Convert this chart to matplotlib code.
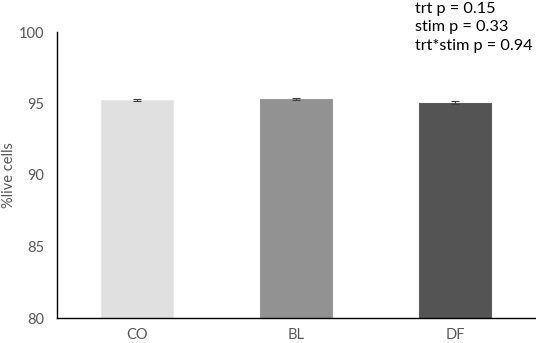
import matplotlib
matplotlib.use("Agg")
import matplotlib.pyplot as plt

categories = ["CO", "BL", "DF"]
values = [95.25, 95.3, 95.05]
errors = [0.09, 0.09, 0.09]
colors = ["#e0e0e0", "#929292", "#545454"]
edge_colors = ["#e8e8e8", "#9a9a9a", "#5c5c5c"]
yticks = [80, 85, 90, 95, 100]
stats_text = "trt p = 0.15\nstim p = 0.33\ntrt*stim p = 0.94"

plt.rcParams['font.family'] = ['Lato', 'DejaVu Sans']

fig = plt.figure(figsize=(5.36, 3.43), dpi=100)
ax = fig.add_axes([57/536, 1-318/343, (535-57)/536, (318-32)/343])

x = list(range(len(categories)))
ax.bar(x, [v - 80 for v in values], bottom=80, width=0.45, color=colors,
       edgecolor=edge_colors, linewidth=0.8)
ax.errorbar(x, values, yerr=errors, fmt='none', ecolor='#404040',
            elinewidth=0.8, capsize=3, capthick=0.8)

ax.set_xlim(-0.5, 2.5)
ax.set_ylim(80, 100)
ax.set_yticks(yticks)
ax.set_xticks(x)
ax.set_xticklabels(categories)
ax.tick_params(axis='both', length=0, colors='#595959', labelsize=10.5)
ax.tick_params(axis='y', pad=9)
ax.tick_params(axis='x', pad=7)
ax.set_ylabel("%live cells", color='#595959', fontsize=10.5)
ax.yaxis.set_label_coords(-(57 - 16) / 478, 0.5)

for s in ['top', 'right']:
    ax.spines[s].set_visible(False)
ax.spines['left'].set_color('black')
ax.spines['bottom'].set_color('black')
ax.spines['left'].set_linewidth(1.0)
ax.spines['bottom'].set_linewidth(1.0)

fig.text(415/536, 1-2/343, stats_text, ha='left', va='top', fontsize=11.7,
         color='black', linespacing=1.4)

fig.savefig("out.png", dpi=100)
